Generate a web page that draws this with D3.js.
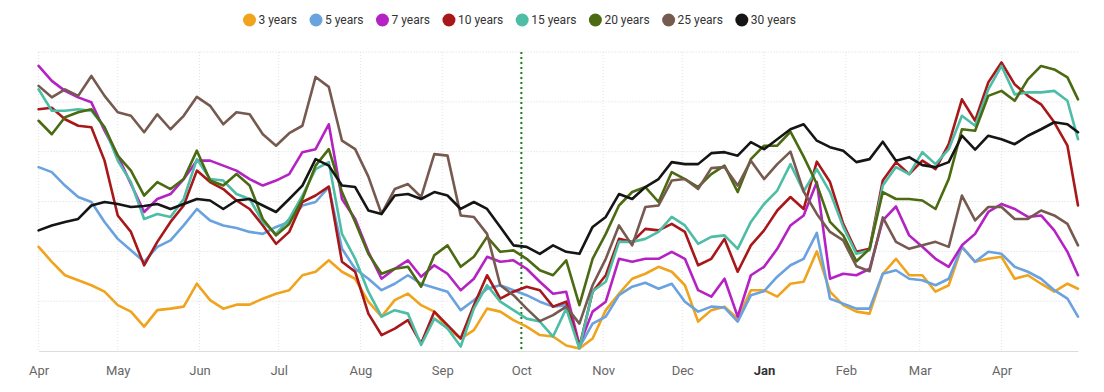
<!DOCTYPE html>
<html>
<head>
<meta charset="utf-8">
<script src="https://cdn.jsdelivr.net/npm/d3@7/dist/d3.min.js"></script>
<style>
  body { margin: 0; background: #fff; font-family: Roboto, 'Open Sans', sans-serif; }
  svg { display: block; }
</style>
</head>
<body>
<div id="chart"></div>
<script>
// sample dates (every 5 days, last point Apr 30)
const dates = [
  '2022-04-01', '2022-04-06', '2022-04-11', '2022-04-16', '2022-04-21', '2022-04-26',
  '2022-05-01', '2022-05-06', '2022-05-11', '2022-05-16', '2022-05-21', '2022-05-26', '2022-05-31',
  '2022-06-05', '2022-06-10', '2022-06-15', '2022-06-20', '2022-06-25', '2022-06-30',
  '2022-07-05', '2022-07-10', '2022-07-15', '2022-07-20', '2022-07-25', '2022-07-30',
  '2022-08-04', '2022-08-09', '2022-08-14', '2022-08-19', '2022-08-24', '2022-08-29',
  '2022-09-03', '2022-09-08', '2022-09-13', '2022-09-18', '2022-09-23', '2022-09-28',
  '2022-10-03', '2022-10-08', '2022-10-13', '2022-10-18', '2022-10-23', '2022-10-28',
  '2022-11-02', '2022-11-07', '2022-11-12', '2022-11-17', '2022-11-22', '2022-11-27',
  '2022-12-02', '2022-12-07', '2022-12-12', '2022-12-17', '2022-12-22', '2022-12-27',
  '2023-01-01', '2023-01-06', '2023-01-11', '2023-01-16', '2023-01-21', '2023-01-26', '2023-01-31',
  '2023-02-05', '2023-02-10', '2023-02-15', '2023-02-20', '2023-02-25',
  '2023-03-02', '2023-03-07', '2023-03-12', '2023-03-17', '2023-03-22', '2023-03-27',
  '2023-04-01', '2023-04-06', '2023-04-11', '2023-04-16', '2023-04-21', '2023-04-26', '2023-04-30'
]

const seriesNames = ['3 years', '5 years', '7 years', '10 years', '15 years', '20 years', '25 years', '30 years']
const colors = ['#f0a31c', '#6aa2e0', '#b522c4', '#a8181a', '#4dbda6', '#4b6a12', '#765a4f', '#151515']

const y3 = [
  2.09, 1.79, 1.52, 1.42, 1.32, 1.19, 0.92, 0.79, 0.49, 0.82, 0.85, 0.89, 1.35,
  1.02, 0.85, 0.93, 0.93, 1.05, 1.15, 1.22, 1.52, 1.59, 1.82, 1.59, 1.45,
  0.99, 0.69, 1.02, 1.15, 0.92, 0.79, 0.45, 0.25, 0.42, 0.85, 0.79, 0.62, 0.49, 0.32,
  0.29, 0.11, 0.05, 0.25, 0.82, 1.15, 1.45, 1.55, 1.69, 1.59, 1.32, 0.59, 0.82,
  0.89, 0.65, 1.22, 1.22, 1.09, 1.35, 1.39, 2.0, 1.19, 0.92, 0.79, 0.75, 1.55,
  1.85, 1.52, 1.52, 1.19, 1.32, 2.09, 1.79, 1.85, 1.89, 1.45, 1.52, 1.35, 1.19, 1.35, 1.25
]
const y5 = [
  3.69, 3.59, 3.32, 3.09, 2.99, 2.59, 2.25, 2.02, 1.79, 2.09, 2.22, 2.52, 2.85,
  2.62, 2.52, 2.47, 2.39, 2.35, 2.49, 2.59, 2.92, 2.99, 3.29, 2.05, 1.65,
  1.45, 1.22, 1.35, 1.52, 1.35, 1.27, 1.19, 0.82, 1.02, 1.25, 1.32, 1.22, 1.12, 0.99,
  0.89, 0.92, 0.08, 0.55, 0.69, 1.12, 1.29, 1.37, 1.25, 1.35, 0.99, 0.79, 0.89,
  0.87, 0.59, 1.12, 1.2, 1.49, 1.72, 1.85, 2.37, 1.05, 0.95, 0.85, 0.85, 1.55,
  1.62, 1.45, 1.42, 1.32, 1.45, 2.09, 1.79, 1.99, 1.95, 1.69, 1.59, 1.45, 1.22, 1.05, 0.69
]
const y7 = [
  5.72, 5.42, 5.22, 5.09, 4.99, 4.42, 3.92, 3.35, 2.79, 3.05, 3.15, 3.45, 3.82,
  3.82, 3.72, 3.62, 3.45, 3.32, 3.42, 3.55, 3.99, 4.05, 4.55, 3.05, 2.65,
  1.99, 1.45, 1.65, 1.82, 1.49, 1.72, 1.55, 1.22, 1.45, 1.89, 1.79, 1.82, 1.65, 1.39,
  1.15, 1.19, 0.12, 0.79, 0.99, 1.85, 1.79, 1.85, 1.85, 1.99, 1.85, 1.22, 1.09,
  1.45, 0.69, 1.52, 1.69, 2.05, 2.52, 2.72, 3.39, 1.45, 1.55, 1.52, 1.65, 2.62,
  2.9, 2.32, 2.09, 1.85, 1.69, 2.12, 2.35, 2.79, 2.95, 2.85, 2.69, 2.72, 2.42, 1.99, 1.52
]
const y10 = [
  4.85, 4.88, 4.65, 4.52, 4.49, 3.82, 2.72, 2.39, 1.72, 2.19, 2.59, 2.92, 3.62,
  3.39, 3.25, 3.02, 2.85, 2.52, 2.15, 2.39, 2.99, 3.12, 3.3, 1.79, 1.59,
  0.75, 0.32, 0.45, 0.62, 0.15, 0.79, 0.52, 0.25, 0.92, 1.52, 1.05, 1.19, 1.29, 1.22,
  0.89, 0.99, 0.08, 1.19, 1.52, 2.25, 2.19, 2.45, 2.42, 2.55, 2.39, 1.72, 1.85,
  2.25, 1.59, 2.12, 2.42, 2.82, 3.09, 2.85, 3.8, 3.39, 2.55, 1.99, 2.05, 3.42,
  3.79, 3.55, 3.82, 3.65, 4.15, 5.05, 4.62, 5.39, 5.79, 5.35, 5.12, 4.95, 4.59, 4.12, 2.92
]
const y15 = [
  5.25, 4.82, 4.82, 4.85, 4.82, 4.49, 3.82, 3.39, 2.65, 2.75, 2.69, 3.05, 3.85,
  3.45, 3.42, 3.15, 3.05, 2.59, 2.35, 2.65, 3.12, 3.65, 3.79, 2.35, 1.85,
  1.19, 0.69, 0.82, 0.75, 0.12, 0.65, 0.45, 0.09, 0.85, 1.32, 0.99, 0.82, 0.65, 0.59,
  0.29, 0.85, 0.05, 1.2, 1.39, 2.19, 2.19, 2.25, 2.39, 2.69, 2.52, 2.15, 2.29,
  2.32, 2.05, 2.59, 2.95, 3.22, 3.75, 3.2, 3.65, 3.19, 2.49, 1.95, 2.02, 3.32,
  3.69, 3.55, 3.99, 3.75, 4.05, 4.72, 4.52, 5.25, 5.72, 5.15, 5.19, 5.19, 5.22, 5.02, 4.25
]
const y20 = [
  4.62, 4.35, 4.69, 4.79, 4.85, 4.49, 3.92, 3.62, 3.12, 3.39, 3.25, 3.45, 4.02,
  3.42, 3.32, 3.55, 3.32, 2.65, 2.32, 2.55, 3.05, 3.72, 4.05, 3.19, 2.59,
  1.95, 1.55, 1.65, 1.69, 1.29, 1.92, 2.12, 1.69, 1.89, 2.29, 1.99, 2.02, 1.85, 1.62,
  1.52, 1.82, 0.92, 1.85, 2.35, 2.92, 3.19, 3.29, 2.99, 3.59, 3.45, 3.29, 3.55,
  3.72, 3.19, 3.85, 4.12, 4.12, 4.4, 3.9, 3.35, 2.59, 2.32, 1.8, 2.05, 3.19,
  3.05, 3.05, 3.02, 2.85, 3.45, 4.45, 4.42, 5.12, 5.22, 5.02, 5.45, 5.72, 5.65, 5.49, 5.05
]
const y25 = [
  5.32, 5.09, 5.25, 5.12, 5.52, 5.12, 4.79, 4.72, 4.39, 4.75, 4.45, 4.72, 5.1,
  4.92, 4.55, 4.79, 4.75, 4.35, 4.12, 4.37, 4.52, 5.5, 5.3, 4.22, 4.05,
  3.5, 2.75, 3.25, 3.35, 3.09, 3.95, 3.92, 2.72, 2.69, 2.35, 1.32, 1.12, 0.85, 0.6,
  0.72, 0.89, 0.55, 1.32, 1.85, 2.52, 2.12, 2.89, 2.92, 3.42, 3.45, 3.25, 3.67,
  3.69, 3.32, 3.82, 3.45, 3.75, 4.0, 3.2, 2.75, 2.39, 2.22, 1.7, 1.6, 2.68,
  2.19, 2.05, 2.12, 2.19, 2.09, 3.12, 2.62, 2.89, 2.89, 2.65, 2.65, 2.82, 2.72, 2.55, 2.12
]
const y30 = [
  2.42, 2.52, 2.59, 2.65, 2.92, 2.99, 2.95, 2.89, 2.91, 2.95, 2.85, 2.95, 3.05,
  3.02, 2.85, 3.02, 3.05, 2.92, 2.79, 3.05, 3.32, 3.85, 3.72, 3.32, 3.29,
  2.82, 2.75, 3.12, 3.15, 3.05, 3.19, 3.12, 2.85, 2.99, 2.85, 2.49, 2.12, 2.09, 1.95,
  2.12, 1.99, 1.95, 2.49, 2.69, 3.15, 3.05, 3.29, 3.45, 3.79, 3.75, 3.75, 3.97,
  3.99, 3.92, 4.19, 4.05, 4.25, 4.45, 4.55, 4.22, 4.09, 4.02, 3.79, 3.85, 4.2,
  3.82, 3.89, 3.73, 3.69, 3.79, 4.32, 4.04, 4.32, 4.25, 4.15, 4.32, 4.45, 4.59, 4.55, 4.39
]

const monthLabels = ['Apr', 'May', 'Jun', 'Jul', 'Aug', 'Sep', 'Oct', 'Nov', 'Dec', 'Jan', 'Feb', 'Mar', 'Apr']
const yGridValues = [1, 2, 3, 4, 5, 6]
const markerDate = '2022-10-01'

const width = 1104
const height = 392
const margin = { top: 52, right: 26, bottom: 41, left: 38.6 }
const parseDate = d3.timeParse('%Y-%m-%d')

const svg = d3.select('#chart')
  .append('svg')
  .attr('width', width)
  .attr('height', height)

const x = d3.scaleTime()
  .domain([parseDate(dates[0]), parseDate(dates[dates.length - 1])])
  .range([margin.left, width - margin.right])

const y = d3.scaleLinear()
  .domain([0, 6])
  .range([height - margin.bottom, margin.top])

// grid
const tickDates = d3.timeMonth.range(parseDate('2022-04-01'), parseDate('2023-04-02'))

svg.append('g')
  .classed('y-grid', true)
  .selectAll('line')
  .data(yGridValues)
  .join('line')
  .attr('x1', margin.left)
  .attr('x2', width - margin.right)
  .attr('y1', d => y(d))
  .attr('y2', d => y(d))
  .attr('stroke', '#d9d9d9')
  .attr('stroke-dasharray', '1,2')

svg.append('g')
  .classed('x-grid', true)
  .selectAll('line')
  .data(tickDates)
  .join('line')
  .attr('x1', d => x(d))
  .attr('x2', d => x(d))
  .attr('y1', y(6))
  .attr('y2', y(0))
  .attr('stroke', '#e2e2e2')
  .attr('stroke-dasharray', '1,2')

// x axis
const xAxis = d3.axisBottom(x)
  .tickValues(tickDates)
  .tickSize(0)
  .tickPadding(15)
  .tickFormat((d, i) => monthLabels[i])

const axisG = svg.append('g')
  .classed('x-axis', true)
  .attr('transform', `translate(0, ${y(0)})`)
  .call(xAxis)

axisG.select('.domain').attr('stroke', '#dcdcdc')
axisG.selectAll('text')
  .style('font-family', 'Roboto, sans-serif')
  .style('font-size', '13px')
  .attr('fill', '#666')
  .filter((d, i) => monthLabels[i] === 'Jan')
  .attr('fill', '#333')
  .style('font-weight', 'bold')

// Oct 1 marker
svg.append('line')
  .attr('x1', x(parseDate(markerDate)))
  .attr('x2', x(parseDate(markerDate)))
  .attr('y1', y(6))
  .attr('y2', y(0))
  .attr('stroke', '#1e7d1e')
  .attr('stroke-width', 2)
  .attr('stroke-dasharray', '2,3')

// series
const allSeries = [y3, y5, y7, y10, y15, y20, y25, y30]
const line = d3.line()
  .x((d, i) => x(parseDate(dates[i])))
  .y(d => y(d))

svg.append('g')
  .classed('lines', true)
  .selectAll('path')
  .data(allSeries)
  .join('path')
  .attr('d', d => line(d))
  .attr('fill', 'none')
  .attr('stroke', (d, i) => colors[i])
  .attr('stroke-width', 2.6)
  .attr('stroke-linejoin', 'round')
  .attr('stroke-linecap', 'round')

// legend
const legend = svg.append('g').classed('legend', true)
let cursor = 243
seriesNames.forEach((name, idx) => {
  legend.append('circle')
    .attr('cx', cursor + 6.5)
    .attr('cy', 20)
    .attr('r', 6.5)
    .attr('fill', colors[idx])
  const label = legend.append('text')
    .attr('x', cursor + 15.5)
    .attr('y', 20)
    .attr('dy', '0.35em')
    .text(name)
    .style('font-family', 'Roboto, sans-serif')
    .style('font-size', '12px')
    .attr('fill', '#333')
  cursor += 15.5 + label.node().getComputedTextLength() + 12.5
})
</script>
</body>
</html>
